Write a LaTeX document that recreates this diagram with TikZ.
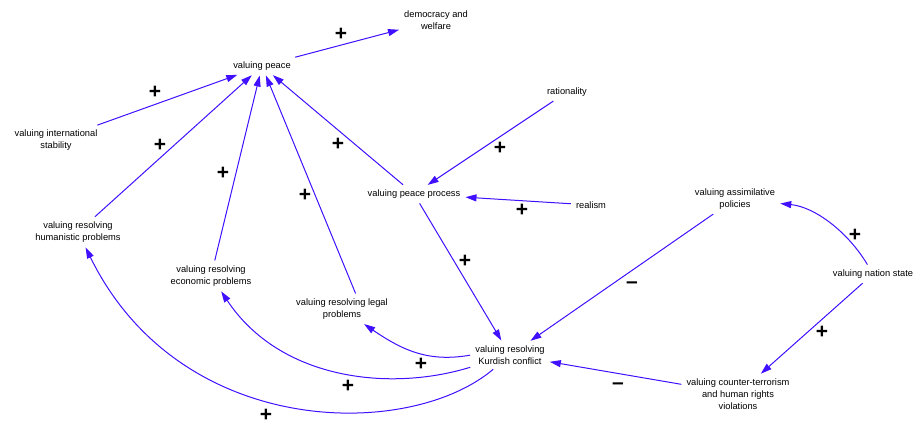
\documentclass[tikz,border=0pt]{standalone}
\usepackage{fontspec}
\setmainfont{Liberation Sans}
\usetikzlibrary{arrows.meta}
\definecolor{linkblue}{RGB}{64,16,255}
\begin{document}
\begin{tikzpicture}[x=1pt,y=-1pt,
  var/.style={align=center,inner sep=4pt,font=\fontsize{9.3}{12}\selectfont},
  lnk/.style={draw=linkblue,line width=1pt,-{Triangle[length=11pt,width=7pt]},shorten >=1pt,shorten <=1pt},
  sgn/.style={font=\fontsize{21}{21}\selectfont\bfseries,inner sep=0pt}]
\useasboundingbox (0,0) rectangle (914,426);

% variables
\node[var] (dem) at (436,20) {democracy and\\welfare};
\node[var] (pe)  at (262,66) {valuing peace};
\node[var] (ins) at (56,140) {valuing international\\stability};
\node[var] (hum) at (78,232) {valuing resolving\\humanistic problems};
\node[var] (eco) at (211,276) {valuing resolving\\economic problems};
\node[var] (leg) at (342,309) {valuing resolving legal\\problems};
\node[var] (pp)  at (414,194) {valuing peace process};
\node[var] (rat) at (567,92) {rationality};
\node[var] (rea) at (591,205) {realism};
\node[var] (kc)  at (510,355) {valuing resolving\\Kurdish conflict};
\node[var] (asp) at (735,199) {valuing assimilative\\policies};
\node[var] (ns)  at (873,274) {valuing nation state};
\node[var] (ct)  at (738,394) {valuing counter-terrorism\\and human rights\\violations};

% causal links
\draw[lnk] (pe) -- (dem);
\draw[lnk] (ins) -- (pe);
\draw[lnk] (hum) -- (pe);
\draw[lnk] (eco) -- (pe);
\draw[lnk] ([xshift=14pt]leg.north) -- (pe);
\draw[lnk] (pp) -- (pe);
\draw[lnk] (rat) -- (pp);
\draw[lnk] (rea) -- (pp);
\draw[lnk] (pp) -- (kc);
\draw[lnk] (asp) -- (kc);
\draw[lnk] (ns) .. controls (848,232) and (815,207) .. (asp);
\draw[lnk] (ns) -- (ct);
\draw[lnk] (ct) -- (kc);
\draw[lnk] (kc.west) .. controls (430,362) and (405,352) .. (leg);
\draw[lnk] (kc) .. controls (390,392) and (280,380) .. (eco);
\draw[lnk] (kc) .. controls (410,440) and (180,440) .. (hum);

% polarities
\node[sgn] (s1)  at (341,34)  {+};
\node[sgn] (s2)  at (155,92)  {+};
\node[sgn] (s3)  at (160,145) {+};
\node[sgn] (s4)  at (223,173) {+};
\node[sgn] (s5)  at (305,195) {+};
\node[sgn] (s6)  at (338,144) {+};
\node[sgn] (s7)  at (500,148) {+};
\node[sgn] (s8)  at (522,210) {+};
\node[sgn] (s9)  at (465,261) {+};
\node[sgn] (s10) at (632,285) {–};
\node[sgn] (s11) at (855,235) {+};
\node[sgn] (s12) at (822,332) {+};
\node[sgn] (s13) at (618,386) {–};
\node[sgn] (s14) at (421,364) {+};
\node[sgn] (s15) at (348,386) {+};
\node[sgn] (s16) at (266,415) {+};
\end{tikzpicture}
\end{document}
